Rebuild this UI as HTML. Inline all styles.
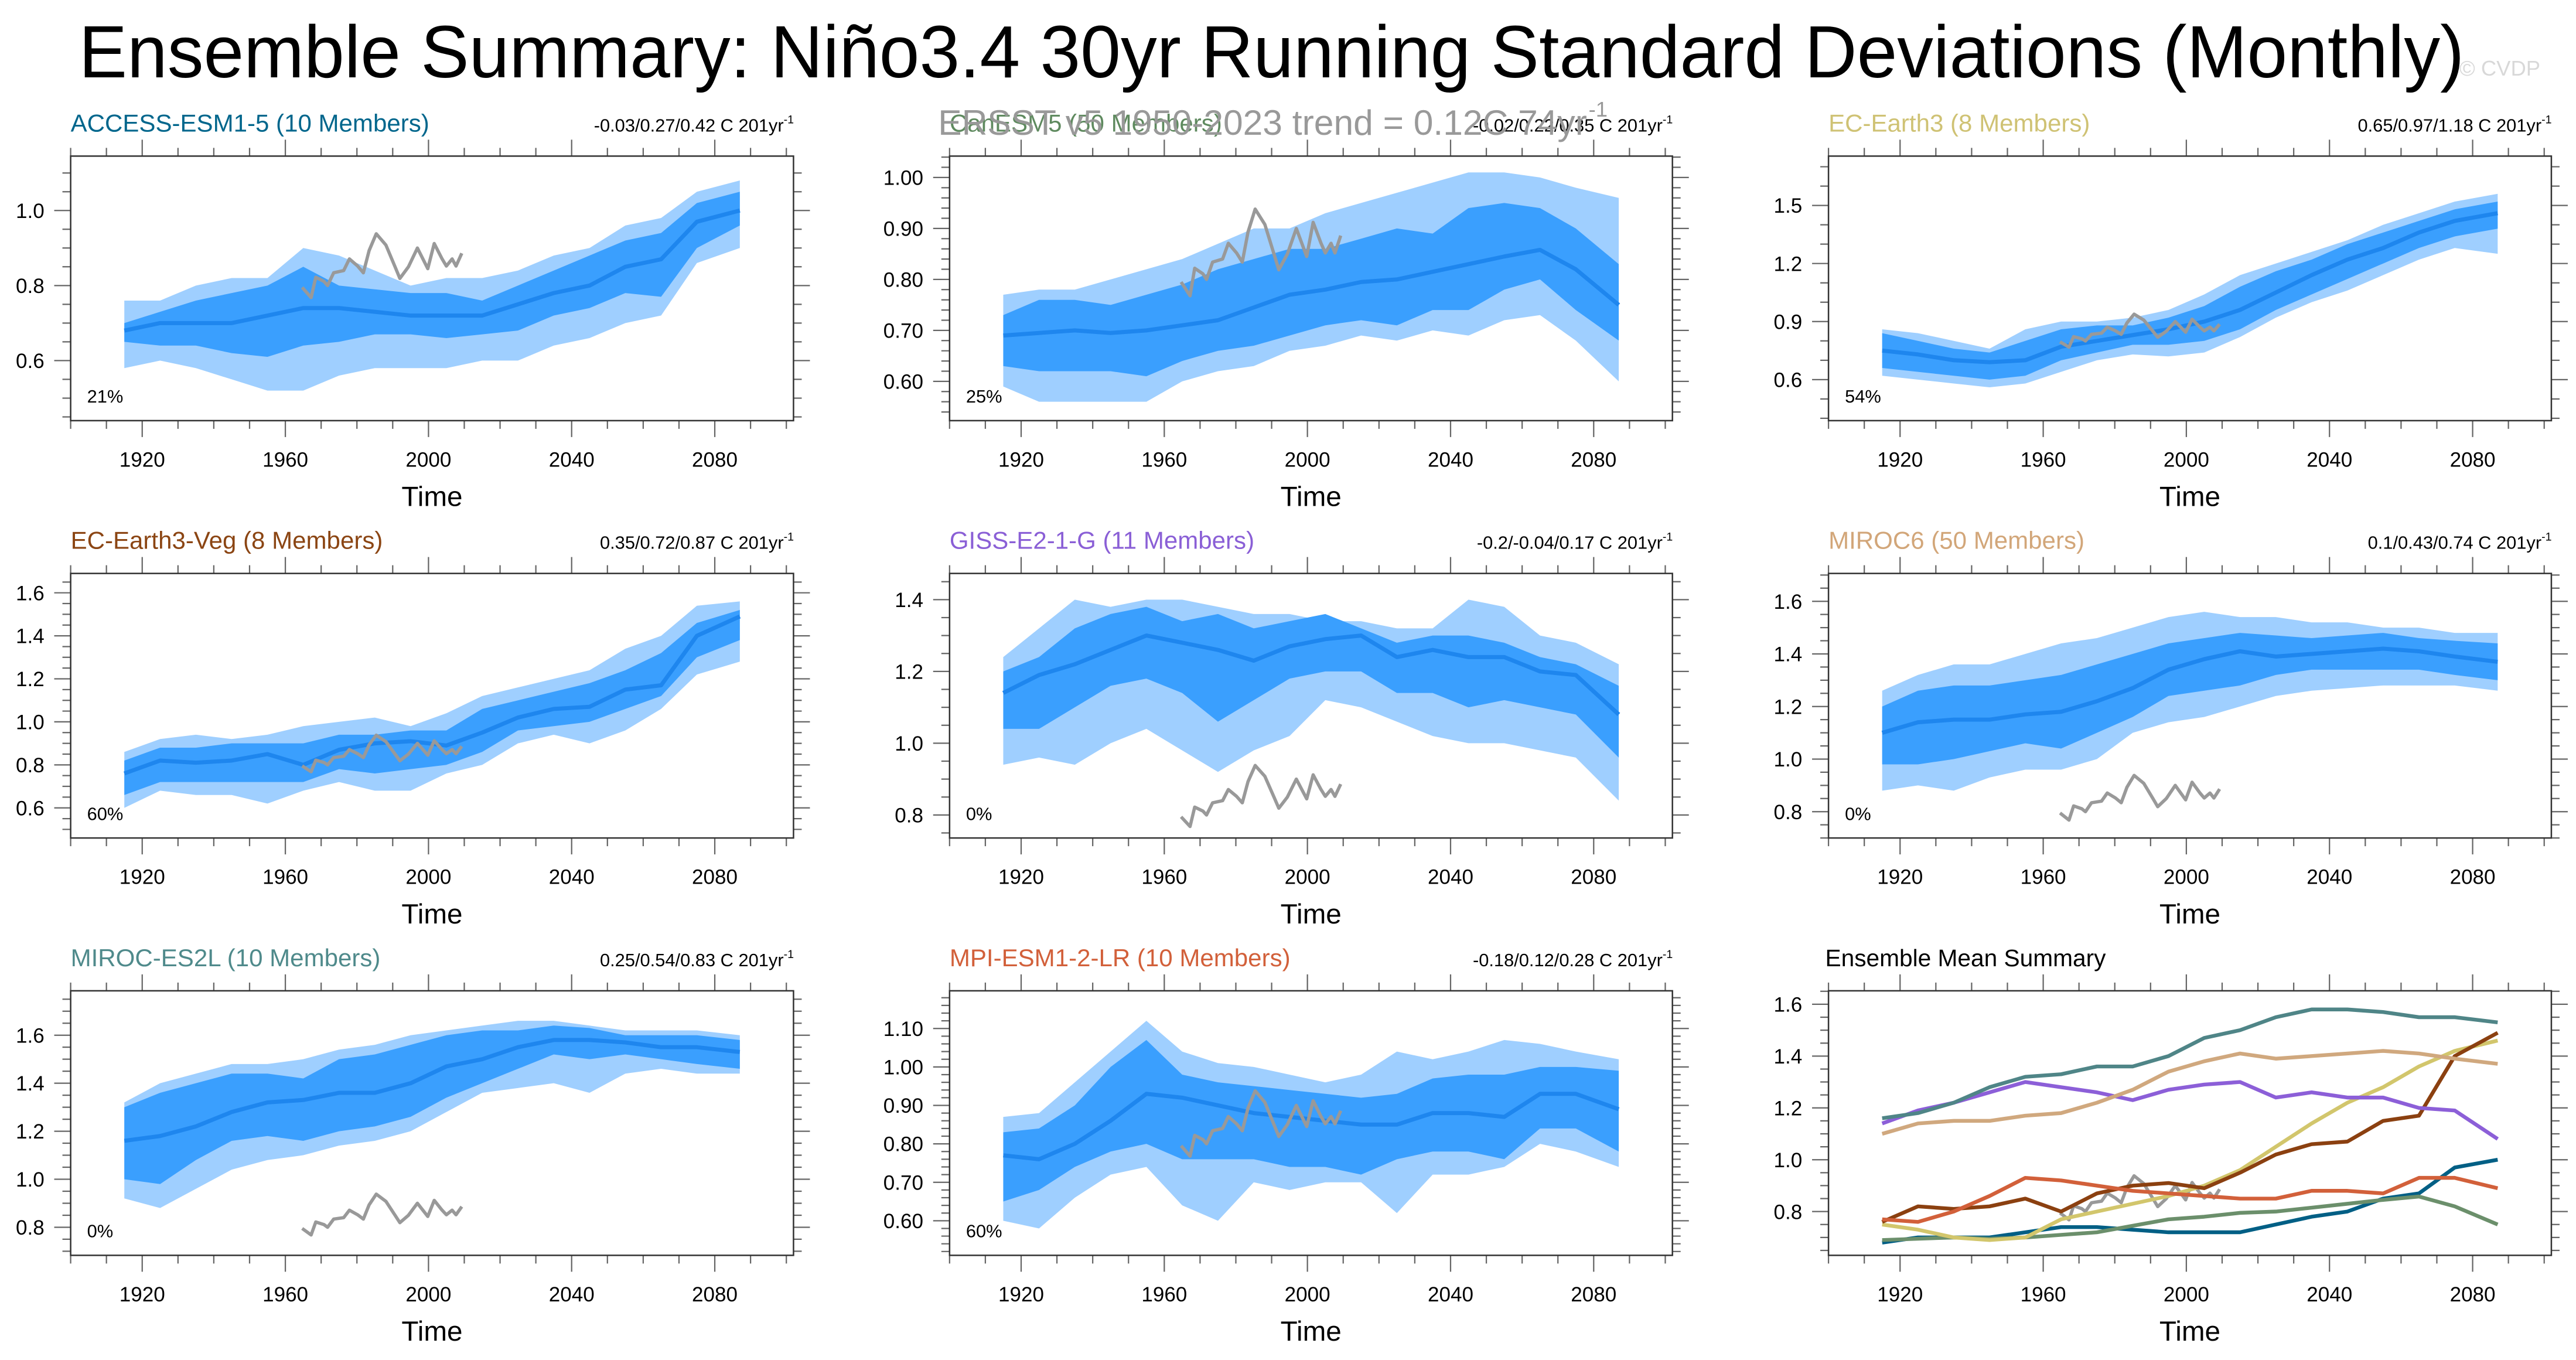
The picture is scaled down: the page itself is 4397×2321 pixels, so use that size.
<!DOCTYPE html>
<html><head><meta charset="utf-8"><title>Ensemble Summary</title>
<style>html,body{margin:0;padding:0;background:#fff;}svg{display:block;}text{font-family:"Liberation Sans",Arial,sans-serif;}</style>
</head><body>
<svg id="chart" xmlns="http://www.w3.org/2000/svg" width="4397" height="2321" viewBox="0 0 1568 827.7" preserveAspectRatio="none">
<rect x="0" y="0" width="1568" height="827.7" fill="#fff"/>
<text x="48" y="47" font-size="45" textLength="1452" lengthAdjust="spacingAndGlyphs" fill="#000">Ensemble Summary: Niño3.4 30yr Running Standard Deviations (Monthly)</text>
<text x="1497" y="46" font-size="13" fill="#d8d8d8">© CVDP</text>
</svg>
<script>
const years = [1915,1925,1935,1945,1955,1965,1975,1985,1995,2005,2015,2025,2035,2045,2055,2065,2075,2087];
const obsYears = [1964.7,1967.2,1968.5,1970.8,1971.8,1973.5,1976.3,1977.9,1980.2,1981.8,1983.4,1985.4,1988.1,1990.7,1992,1994.4,1996.9,1999.8,2001.6,2003.8,2005,2006.6,2007.7,2009.3];
const obsValues = [0.795,0.768,0.822,0.811,0.80,0.834,0.84,0.871,0.852,0.834,0.893,0.938,0.908,0.849,0.819,0.85,0.90,0.845,0.912,0.871,0.852,0.871,0.852,0.886];

const accessMean = [0.68,0.70,0.70,0.70,0.72,0.74,0.74,0.73,0.72,0.72,0.72,0.75,0.78,0.80,0.85,0.87,0.97,1.00];
const accessInLo = [0.65,0.64,0.64,0.62,0.61,0.64,0.65,0.67,0.67,0.66,0.67,0.68,0.72,0.74,0.78,0.77,0.90,0.96];
const accessInHi = [0.70,0.73,0.76,0.78,0.80,0.85,0.80,0.79,0.78,0.78,0.76,0.80,0.84,0.88,0.92,0.94,1.02,1.05];
const accessOutLo = [0.58,0.60,0.58,0.55,0.52,0.52,0.56,0.58,0.58,0.58,0.60,0.60,0.64,0.66,0.70,0.72,0.86,0.90];
const accessOutHi = [0.76,0.76,0.80,0.82,0.82,0.90,0.88,0.84,0.80,0.82,0.82,0.84,0.88,0.90,0.96,0.98,1.05,1.08];

const canMean = [0.69,0.695,0.70,0.695,0.70,0.71,0.72,0.745,0.77,0.78,0.795,0.80,0.815,0.83,0.845,0.858,0.82,0.75];
const canInLo = [0.63,0.62,0.62,0.62,0.61,0.64,0.66,0.67,0.69,0.71,0.72,0.71,0.74,0.74,0.78,0.80,0.74,0.68];
const canInHi = [0.73,0.76,0.76,0.75,0.77,0.79,0.82,0.84,0.86,0.86,0.88,0.90,0.89,0.94,0.95,0.94,0.90,0.83];
const canOutLo = [0.59,0.56,0.56,0.56,0.56,0.60,0.62,0.63,0.66,0.67,0.69,0.68,0.70,0.69,0.72,0.73,0.68,0.60];
const canOutHi = [0.77,0.78,0.78,0.80,0.82,0.84,0.87,0.90,0.90,0.93,0.95,0.97,0.99,1.01,1.01,1.00,0.98,0.96];

const ec3Mean = [0.75,0.73,0.70,0.69,0.70,0.77,0.80,0.83,0.86,0.90,0.96,1.05,1.14,1.22,1.28,1.36,1.42,1.46];
const ec3InLo = [0.66,0.64,0.62,0.60,0.62,0.70,0.74,0.78,0.78,0.80,0.86,0.96,1.04,1.12,1.20,1.28,1.34,1.38];
const ec3InHi = [0.84,0.80,0.76,0.74,0.80,0.86,0.88,0.88,0.92,0.98,1.08,1.16,1.22,1.30,1.36,1.42,1.48,1.52];
const ec3OutLo = [0.62,0.60,0.58,0.56,0.58,0.64,0.70,0.73,0.72,0.74,0.82,0.92,1.00,1.06,1.14,1.22,1.28,1.25];
const ec3OutHi = [0.86,0.84,0.80,0.76,0.86,0.90,0.90,0.92,0.96,1.04,1.14,1.20,1.26,1.32,1.40,1.46,1.52,1.56];

const vegMean = [0.76,0.82,0.81,0.82,0.85,0.80,0.87,0.90,0.91,0.89,0.95,1.02,1.06,1.07,1.15,1.17,1.40,1.49];
const vegInLo = [0.66,0.72,0.72,0.72,0.72,0.72,0.78,0.76,0.78,0.80,0.86,0.96,0.98,1.00,1.06,1.12,1.30,1.38];
const vegInHi = [0.82,0.88,0.88,0.90,0.90,0.90,0.94,0.94,0.96,0.96,1.06,1.10,1.14,1.18,1.24,1.32,1.46,1.52];
const vegOutLo = [0.60,0.68,0.66,0.66,0.62,0.68,0.72,0.68,0.68,0.76,0.80,0.90,0.94,0.90,0.96,1.06,1.22,1.28];
const vegOutHi = [0.86,0.92,0.94,0.92,0.94,0.98,1.00,1.02,0.98,1.04,1.12,1.16,1.20,1.24,1.34,1.40,1.54,1.56];

const gissMean = [1.14,1.19,1.22,1.26,1.30,1.28,1.26,1.23,1.27,1.29,1.30,1.24,1.26,1.24,1.24,1.20,1.19,1.08];
const gissInLo = [1.04,1.04,1.10,1.16,1.18,1.14,1.06,1.12,1.18,1.20,1.20,1.14,1.14,1.10,1.12,1.10,1.08,0.96];
const gissInHi = [1.20,1.24,1.32,1.36,1.38,1.34,1.36,1.32,1.34,1.36,1.32,1.28,1.30,1.30,1.28,1.24,1.22,1.16];
const gissOutLo = [0.94,0.96,0.94,1.00,1.04,0.98,0.92,0.98,1.02,1.12,1.10,1.06,1.02,1.00,1.00,0.98,0.96,0.84];
const gissOutHi = [1.24,1.32,1.40,1.38,1.40,1.40,1.38,1.36,1.36,1.34,1.34,1.32,1.32,1.40,1.38,1.30,1.28,1.22];

const miroc6Mean = [1.10,1.14,1.15,1.15,1.17,1.18,1.22,1.27,1.34,1.38,1.41,1.39,1.40,1.41,1.42,1.41,1.39,1.37];
const miroc6InLo = [0.98,0.98,1.00,1.03,1.06,1.04,1.10,1.16,1.24,1.26,1.28,1.32,1.34,1.34,1.34,1.34,1.32,1.30];
const miroc6InHi = [1.20,1.26,1.28,1.28,1.30,1.32,1.36,1.40,1.44,1.46,1.48,1.47,1.46,1.47,1.48,1.46,1.45,1.44];
const miroc6OutLo = [0.88,0.90,0.88,0.93,0.96,0.96,1.00,1.10,1.14,1.16,1.20,1.24,1.26,1.27,1.28,1.28,1.28,1.26];
const miroc6OutHi = [1.26,1.32,1.36,1.36,1.40,1.44,1.46,1.50,1.54,1.56,1.54,1.54,1.52,1.52,1.50,1.50,1.48,1.48];

const es2lMean = [1.16,1.18,1.22,1.28,1.32,1.33,1.36,1.36,1.40,1.47,1.50,1.55,1.58,1.58,1.57,1.55,1.55,1.53];
const es2lInLo = [1.00,0.98,1.08,1.16,1.18,1.16,1.20,1.22,1.26,1.34,1.40,1.46,1.52,1.50,1.52,1.50,1.48,1.46];
const es2lInHi = [1.30,1.36,1.40,1.44,1.44,1.42,1.50,1.52,1.56,1.60,1.62,1.62,1.64,1.63,1.60,1.60,1.60,1.58];
const es2lOutLo = [0.92,0.88,0.96,1.04,1.08,1.10,1.14,1.16,1.20,1.28,1.36,1.38,1.40,1.36,1.44,1.46,1.44,1.44];
const es2lOutHi = [1.32,1.40,1.44,1.48,1.48,1.50,1.54,1.56,1.60,1.62,1.64,1.66,1.66,1.64,1.62,1.62,1.62,1.60];

const mpiMean = [0.77,0.76,0.80,0.86,0.93,0.92,0.90,0.88,0.87,0.86,0.85,0.85,0.88,0.88,0.87,0.93,0.93,0.89];
const mpiInLo = [0.65,0.68,0.74,0.78,0.80,0.76,0.76,0.76,0.74,0.74,0.72,0.76,0.78,0.78,0.76,0.84,0.84,0.78];
const mpiInHi = [0.83,0.84,0.90,1.00,1.07,0.98,0.96,0.95,0.94,0.93,0.92,0.93,0.97,0.98,0.98,1.00,1.00,0.99];
const mpiOutLo = [0.60,0.58,0.66,0.72,0.74,0.64,0.60,0.70,0.68,0.70,0.70,0.62,0.72,0.72,0.74,0.80,0.78,0.74];
const mpiOutHi = [0.87,0.88,0.96,1.04,1.12,1.04,1.01,1.00,0.98,0.96,0.98,1.04,1.02,1.04,1.07,1.06,1.04,1.02];

const xTickLabels = [1920,1960,2000,2040,2080];

const models = [
 {key:'access-esm1-5', title:'ACCESS-ESM1-5 (10 Members)', color:'#00668c', trend:'-0.03/0.27/0.42 C 201yr', pct:'21%', col:0,row:0, ymin:0.44,ymax:1.145, major:[0.6,0.8,1.0], minor:0.05, dec:1, mean:accessMean, inLo:accessInLo, inHi:accessInHi, outLo:accessOutLo, outHi:accessOutHi, sum:'#005f85'},
 {key:'canesm5', title:'CanESM5 (50 Members)', color:'#5f8a5f', trend:'-0.02/0.22/0.35 C 201yr', pct:'25%', col:1,row:0, ymin:0.523,ymax:1.042, major:[0.6,0.7,0.8,0.9,1.0], minor:0.02, dec:2, mean:canMean, inLo:canInLo, inHi:canInHi, outLo:canOutLo, outHi:canOutHi, sum:'#6b8f6b'},
 {key:'ec-earth3', title:'EC-Earth3 (8 Members)', color:'#cfc274', trend:'0.65/0.97/1.18 C 201yr', pct:'54%', col:2,row:0, ymin:0.388,ymax:1.755, major:[0.6,0.9,1.2,1.5], minor:0.1, dec:1, mean:ec3Mean, inLo:ec3InLo, inHi:ec3InHi, outLo:ec3OutLo, outHi:ec3OutHi, sum:'#d2c66c'},
 {key:'ec-earth3-veg', title:'EC-Earth3-Veg (8 Members)', color:'#8b4513', trend:'0.35/0.72/0.87 C 201yr', pct:'60%', col:0,row:1, ymin:0.46,ymax:1.69, major:[0.6,0.8,1.0,1.2,1.4,1.6], minor:0.05, dec:1, mean:vegMean, inLo:vegInLo, inHi:vegInHi, outLo:vegOutLo, outHi:vegOutHi, sum:'#8b4010'},
 {key:'giss-e2-1-g', title:'GISS-E2-1-G (11 Members)', color:'#8a5fd6', trend:'-0.2/-0.04/0.17 C 201yr', pct:'0%', col:1,row:1, ymin:0.736,ymax:1.473, major:[0.8,1.0,1.2,1.4], minor:0.05, dec:1, mean:gissMean, inLo:gissInLo, inHi:gissInHi, outLo:gissOutLo, outHi:gissOutHi, sum:'#8c5fd8'},
 {key:'miroc6', title:'MIROC6 (50 Members)', color:'#d2a679', trend:'0.1/0.43/0.74 C 201yr', pct:'0%', col:2,row:1, ymin:0.70,ymax:1.706, major:[0.8,1.0,1.2,1.4,1.6], minor:0.05, dec:1, mean:miroc6Mean, inLo:miroc6InLo, inHi:miroc6InHi, outLo:miroc6OutLo, outHi:miroc6OutHi, sum:'#d0a87e'},
 {key:'miroc-es2l', title:'MIROC-ES2L (10 Members)', color:'#4f8a8b', trend:'0.25/0.54/0.83 C 201yr', pct:'0%', col:0,row:2, ymin:0.683,ymax:1.785, major:[0.8,1.0,1.2,1.4,1.6], minor:0.05, dec:1, mean:es2lMean, inLo:es2lInLo, inHi:es2lInHi, outLo:es2lOutLo, outHi:es2lOutHi, sum:'#4f8587'},
 {key:'mpi-esm1-2-lr', title:'MPI-ESM1-2-LR (10 Members)', color:'#d2603a', trend:'-0.18/0.12/0.28 C 201yr', pct:'60%', col:1,row:2, ymin:0.51,ymax:1.198, major:[0.6,0.7,0.8,0.9,1.0,1.1], minor:0.02, dec:2, mean:mpiMean, inLo:mpiInLo, inHi:mpiInHi, outLo:mpiOutLo, outHi:mpiOutHi, sum:'#d2603a'}
];

const NS='http://www.w3.org/2000/svg';
const svg=document.getElementById('chart');
const colX=[43,578,1113], rowY=[95,349,603], PW=440, PH=161;
const XMIN=1900, XMAX=2102;

function mk(tag, attrs, parent){
  const e=document.createElementNS(NS,tag);
  for(const k in attrs) e.setAttribute(k, attrs[k]);
  (parent||svg).appendChild(e);
  return e;
}
function drawAxes(g, L, T, ymin, ymax, major, minor, dec){
  const sx=v=>L+(v-XMIN)/(XMAX-XMIN)*PW;
  const sy=v=>T+PH-(v-ymin)/(ymax-ymin)*PH;
  const B=T+PH, R=L+PW;
  let d='';
  for(let yr=1900; yr<=2100; yr+=10){
    const x=sx(yr); const isMaj=(yr-1920)%40===0 && yr>=1920;
    const len=isMaj?10:5;
    d+=`M${x},${T}V${T-len}M${x},${B}V${B+len}`;
  }
  const eps=1e-6;
  const start=Math.ceil(ymin/minor-eps)*minor;
  for(let v=start; v<=ymax+eps; v+=minor){
    const y=sy(v); const isMaj=major.some(m=>Math.abs(m-v)<1e-6);
    const len=isMaj?10:5;
    d+=`M${L},${y}H${L-len}M${R},${y}H${R+len}`;
  }
  const ticks=mk('path',{d:d,stroke:'#666','stroke-width':0.8,fill:'none'},g);
  
  
  major.forEach(m=>{
    const t=mk('text',{x:L-16,y:sy(m)+4.5,'font-size':12.5,'text-anchor':'end',fill:'#000'},g);
    t.textContent=m.toFixed(dec);
    
    
  });
  xTickLabels.forEach(yv=>{
    const t=mk('text',{x:sx(yv),y:B+28,'font-size':12.5,'text-anchor':'middle',fill:'#000'},g);
    t.textContent=String(yv);
    
    
  });
  const xt=mk('text',{x:L+PW/2,y:B+52,'font-size':17,'text-anchor':'middle',fill:'#000'},g);
  xt.textContent='Time';
  
  
  return {sx,sy};
}
function pathFrom(xs, ys, sx, sy){
  return xs.map((x,i)=>(i?'L':'M')+sx(x).toFixed(2)+','+sy(ys[i]).toFixed(2)).join('');
}
function bandPath(lo, hi, sx, sy){
  let d=years.map((x,i)=>(i?'L':'M')+sx(x)+','+sy(hi[i])).join('');
  for(let i=years.length-1;i>=0;i--) d+='L'+sx(years[i])+','+sy(lo[i]);
  return d+'Z';
}
function frame(g,L,T){
  const f=mk('rect',{x:L,y:T,width:PW,height:PH,fill:'none',stroke:'#333','stroke-width':0.9},g);
  
  
}

models.forEach(m=>{
  const L=colX[m.col], T=rowY[m.row];
  const g=mk('g',{});
  
  
  const clipId='clip-'+m.key;
  const cp=mk('clipPath',{id:clipId},g);
  mk('rect',{x:L,y:T,width:PW,height:PH},cp);
  const a=drawAxes(g,L,T,m.ymin,m.ymax,m.major,m.minor,m.dec);
  const dg=mk('g',{'clip-path':`url(#${clipId})`},g);
  const ob=mk('path',{d:bandPath(m.outLo,m.outHi,a.sx,a.sy),fill:'#9fcfff',stroke:'none'},dg);
  
  
  const ib=mk('path',{d:bandPath(m.inLo,m.inHi,a.sx,a.sy),fill:'#3a9ffe',stroke:'none'},dg);
  
  
  const ml=mk('path',{d:pathFrom(years,m.mean,a.sx,a.sy),fill:'none',stroke:'#1e86ee','stroke-width':2.5,'stroke-linejoin':'round'},dg);
  
  
  const ol=mk('path',{d:pathFrom(obsYears,obsValues,a.sx,a.sy),fill:'none',stroke:'#999','stroke-width':2,'stroke-linejoin':'round'},dg);
  
  
  frame(g,L,T);
  const tt=mk('text',{x:L,y:T-15,'font-size':15,fill:m.color},g);
  tt.textContent=m.title;
  
  
  const tr=mk('text',{x:L+PW-6,y:T-15,'font-size':11,'text-anchor':'end',fill:'#000'},g);
  tr.textContent=m.trend;
  
  
  const sup=mk('text',{x:L+PW-6,y:T-20,'font-size':7,fill:'#000'},g);
  sup.textContent='-1';
  
  
  const pc=mk('text',{x:L+10,y:T+PH-11,'font-size':11,fill:'#000'},g);
  pc.textContent=m.pct;
  
  
});

// summary panel
(function(){
  const L=1113, T=603;
  const g=mk('g',{});
  
  
  const cp=mk('clipPath',{id:'clip-summary'},g);
  mk('rect',{x:L,y:T,width:PW,height:PH},cp);
  const a=drawAxes(g,L,T,0.631,1.652,[0.8,1.0,1.2,1.4,1.6],0.05,1);
  const dg=mk('g',{'clip-path':'url(#clip-summary)'},g);
  const ol=mk('path',{d:pathFrom(obsYears,obsValues,a.sx,a.sy),fill:'none',stroke:'#999','stroke-width':2,'stroke-linejoin':'round'},dg);
  
  
  models.forEach(m=>{
    const p=mk('path',{d:pathFrom(years,m.mean,a.sx,a.sy),fill:'none',stroke:m.sum,'stroke-width':2.3,'stroke-linejoin':'round'},dg);
    
    
  });
  frame(g,L,T);
  const tt=mk('text',{x:L-2,y:T-15,'font-size':14.5,fill:'#000'},g);
  tt.textContent='Ensemble Mean Summary';
  
  
})();

// ERSST overlay
const er=mk('text',{x:571,y:82,'font-size':21.5,fill:'#999',textLength:395,lengthAdjust:'spacingAndGlyphs'});
er.textContent='ERSST v5 1950-2023 trend = 0.12C 74yr';


const ers=mk('text',{x:967,y:71,'font-size':13,fill:'#999'});
ers.textContent='-1';


</script>
</body></html>
